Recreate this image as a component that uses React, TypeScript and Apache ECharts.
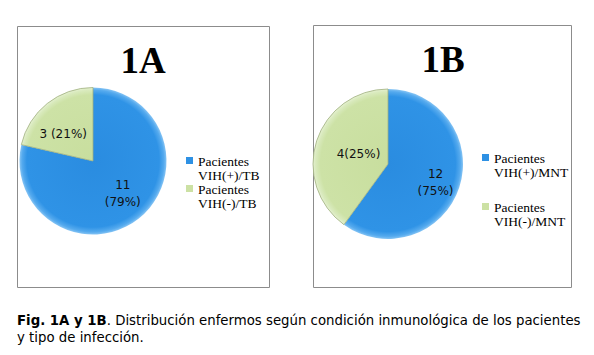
import React, { useEffect, useRef } from "react";
import * as echarts from "echarts";

// ---- data ----
const titleA = "1A";
const titleB = "1B";
const categoriesA = ["Pacientes\nVIH(+)/TB", "Pacientes\nVIH(-)/TB"];
const categoriesB = ["Pacientes\nVIH(+)/MNT", "Pacientes\nVIH(-)/MNT"];
const valuesA = [11, 3];
const valuesB = [12, 4];
// NOTE: in the reference, chart 1B's slices are drawn at about 60% / 40%
// (angles measured on the picture), although its labels say 12 (75%) and 4 (25%).
// The slices below follow the drawing; the label texts follow valuesB.
const drawnSharesB = [60, 40];
// separators between count and percentage in the data labels
const labelSepA = ["\n", " "];
const labelSepB = ["\n", ""];
const captionBold = "Fig. 1A y 1B";
const captionRest1 = ". Distribución enfermos según condición inmunológica de los pacientes";
const captionLine2 = "y tipo de infección.";

const BLUE = "#2E91E4";
const GREEN = "#CCE1A4";
// legend marker: a 7px square drawn at the level of the first text line
const LEGEND_ICON =
  "path://M0,0h0.01v0.01h-0.01zM0,3h7v7h-7zM6.99,27.99h0.01v0.01h-0.01z";

function pct(v: number, arr: number[]) {
  const s = arr.reduce((a, b) => a + b, 0);
  return Math.round((v / s) * 100);
}

function blueFill(cx: number, cy: number, r: number) {
  return {
    type: "radial",
    x: cx,
    y: cy,
    r,
    global: true,
    colorStops: [
      { offset: 0, color: "#2A8CE0" },
      { offset: 0.9, color: "#2F93E6" },
      { offset: 0.965, color: "#55AAEE" },
      { offset: 1, color: "#86C4F4" },
    ],
  };
}
function greenFill(cx: number, cy: number, r: number) {
  return {
    type: "radial",
    x: cx,
    y: cy,
    r,
    global: true,
    colorStops: [
      { offset: 0, color: "#C8DE9E" },
      { offset: 0.9, color: "#CDE2A6" },
      { offset: 0.965, color: "#D9EABD" },
      { offset: 1, color: "#E6F1D2" },
    ],
  };
}

// small nudges so the data labels sit where the reference puts them
const labelNudgeA = [
  [5, 1],
  [-5, 4],
];
const labelNudgeB = [
  [9, 6],
  [9, 3],
];

export default function App() {
  const ref = useRef<HTMLDivElement>(null);
  useEffect(() => {
    if (!ref.current) return;
    const chart = echarts.init(ref.current, undefined, { renderer: "svg" });
    const cA = [93, 161];
    const rA = 73.5;
    const cB = [388, 164];
    const rB = 75;
    const labelStyle = {
      show: true,
      position: "inside",
      fontFamily: "DejaVu Sans",
      fontSize: 12,
      lineHeight: 17,
      color: "#111",
    };
    const legendText = {
      fontFamily: "Liberation Serif",
      fontSize: 13.5,
      lineHeight: 14,
      color: "#000",
    };
    const legendItem = (n: string, i: number) => ({
      name: n,
      icon: LEGEND_ICON,
      itemStyle: { color: i === 0 ? BLUE : GREEN, borderWidth: 0 },
    });
    chart.setOption({
      animation: false,
      backgroundColor: "#fff",
      legend: [
        {
          orient: "vertical",
          left: 186,
          top: 154,
          padding: 0,
          itemWidth: 7,
          itemHeight: 28,
          itemGap: 0,
          selectedMode: false,
          textStyle: legendText,
          data: categoriesA.map(legendItem),
        },
        {
          orient: "vertical",
          left: 482,
          top: 151,
          padding: 0,
          itemWidth: 7,
          itemHeight: 28,
          itemGap: 21,
          selectedMode: false,
          textStyle: legendText,
          data: categoriesB.map(legendItem),
        },
      ],
      graphic: [
        {
          type: "rect",
          z: -10,
          shape: { x: 17.5, y: 26.5, width: 252, height: 261 },
          style: { fill: "#fff", stroke: "#8C8C8C", lineWidth: 1 },
        },
        {
          type: "rect",
          z: -10,
          shape: { x: 313.5, y: 25.5, width: 258, height: 262 },
          style: { fill: "#fff", stroke: "#8C8C8C", lineWidth: 1 },
        },
        {
          type: "text",
          x: 143,
          y: 60,
          style: {
            text: titleA,
            fontFamily: "Liberation Serif",
            fontWeight: "bold",
            fontSize: 37,
            fill: "#000",
            align: "center",
            verticalAlign: "middle",
          },
        },
        {
          type: "text",
          x: 443,
          y: 59,
          style: {
            text: titleB,
            fontFamily: "Liberation Serif",
            fontWeight: "bold",
            fontSize: 37,
            fill: "#000",
            align: "center",
            verticalAlign: "middle",
          },
        },
        {
          type: "text",
          x: 17,
          y: 312,
          style: {
            text: "{b|" + captionBold + "}" + captionRest1 + "\n" + captionLine2,
            fontFamily: "DejaVu Sans",
            fontSize: 13.3,
            lineHeight: 17,
            fill: "#000",
            verticalAlign: "top",
            rich: {
              b: { fontFamily: "DejaVu Sans", fontWeight: "bold", fontSize: 13.3, lineHeight: 17, fill: "#000" },
            },
          },
        },
      ],
      series: [
        {
          type: "pie",
          center: cA,
          radius: rA,
          startAngle: 90,
          clockwise: true,
          silent: true,
          emphasis: { disabled: true },
          labelLine: { show: false },
          label: labelStyle,
          labelLayout: (p: any) => ({ dx: labelNudgeA[p.dataIndex][0], dy: labelNudgeA[p.dataIndex][1] }),
          data: categoriesA.map((n, i) => ({
            name: n,
            value: valuesA[i],
            label: { formatter: valuesA[i] + labelSepA[i] + "(" + pct(valuesA[i], valuesA) + "%)" },
            itemStyle:
              i === 0
                ? { color: blueFill(cA[0], cA[1], rA) }
                : { color: greenFill(cA[0], cA[1], rA), borderColor: "#9FB07F", borderWidth: 0.8 },
          })),
        },
        {
          type: "pie",
          center: cB,
          radius: rB,
          startAngle: 90,
          clockwise: true,
          silent: true,
          emphasis: { disabled: true },
          labelLine: { show: false },
          label: labelStyle,
          labelLayout: (p: any) => ({ dx: labelNudgeB[p.dataIndex][0], dy: labelNudgeB[p.dataIndex][1] }),
          data: categoriesB.map((n, i) => ({
            name: n,
            value: drawnSharesB[i],
            label: { formatter: valuesB[i] + labelSepB[i] + "(" + pct(valuesB[i], valuesB) + "%)" },
            itemStyle:
              i === 0
                ? { color: blueFill(cB[0], cB[1], rB) }
                : { color: greenFill(cB[0], cB[1], rB), borderColor: "#9FB07F", borderWidth: 0.8 },
          })),
        },
      ],
    });
    return () => chart.dispose();
  }, []);
  return (
    <div
      ref={ref}
      style={{ position: "fixed", left: 0, top: 0, width: 594, height: 355, background: "#fff" }}
    />
  );
}
